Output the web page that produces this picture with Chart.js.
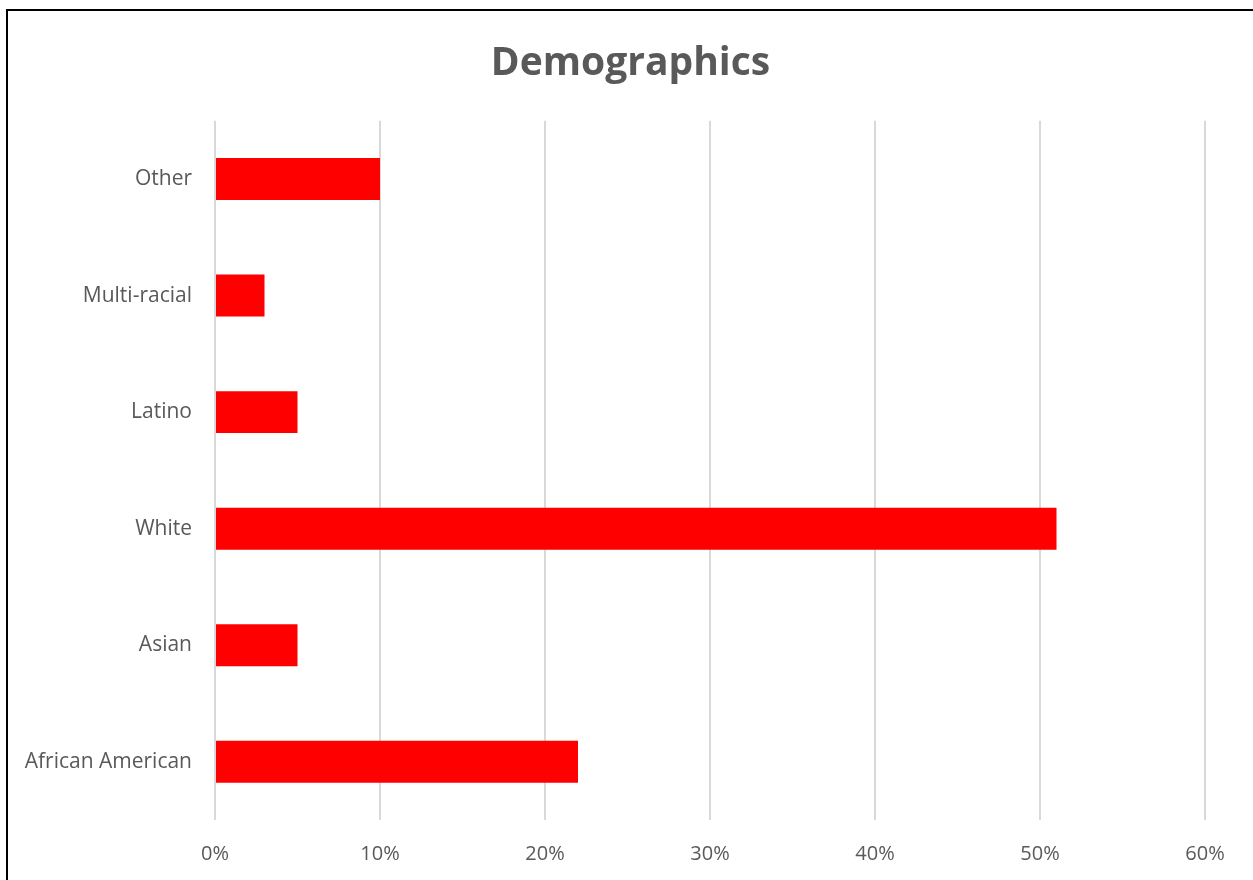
<!DOCTYPE html>
<html>
<head>
<meta charset="utf-8">
<script src="https://cdn.jsdelivr.net/npm/chart.js@4/dist/chart.umd.min.js"></script>
<style>
    html, body { margin: 0; padding: 0; background: #fff; }
    #wrap { position: relative; width: 1253px; height: 880px; }
    #frame {
        position: absolute; left: 6px; top: 9px; right: -10px; bottom: -10px;
        border-left: 2px solid #000; border-top: 2px solid #000;
        pointer-events: none;
    }
</style>
</head>
<body>
<div id="wrap">
    <canvas id="chart" width="1253" height="880"></canvas>
    <div id="frame"></div>
</div>
<script>
// categories listed bottom-up in the picture, reversed on the axis below
const categories = ["African American", "Asian", "White", "Latino", "Multi-racial", "Other"];
const percentages = [22, 5, 51, 5, 3, 10];
const xTicks = [0, 10, 20, 30, 40, 50, 60];

const TEXT = "#595959";
const FONT = "'Open Sans', 'Liberation Sans', sans-serif";

new Chart(document.getElementById("chart"), {
    type: "bar",
    data: {
        labels: categories,
        datasets: [
            {
                data: percentages,
                backgroundColor: "#ff0000",
                borderWidth: 0,
                categoryPercentage: 1,
                barPercentage: 0.36,
            },
        ],
    },
    options: {
        indexAxis: "y",
        responsive: false,
        animation: false,
        layout: {
            padding: { left: 8, right: 0, top: 0, bottom: 0 },
        },
        plugins: {
            legend: { display: false },
            tooltip: { enabled: false },
            title: {
                display: true,
                text: "Demographics",
                color: TEXT,
                font: { family: FONT, size: 39, weight: "bold" },
                padding: { top: 40, bottom: 34 },
            },
        },
        scales: {
            x: {
                min: 0,
                max: 60,
                afterBuildTicks: (axis) => {
                    axis.ticks = xTicks.map((v) => ({ value: v }));
                },
                afterFit: (axis) => {
                    axis.height = 60;
                },
                grid: {
                    color: "#d9d9d9",
                    lineWidth: 2,
                    drawTicks: false,
                },
                border: { display: false },
                ticks: {
                    padding: 22,
                    color: TEXT,
                    font: { family: FONT, size: 20 },
                    callback: (v) => v + "%",
                },
            },
            y: {
                reverse: true,
                afterFit: (axis) => {
                    axis.width = 207;
                },
                grid: { display: false, drawTicks: false },
                border: { display: false },
                ticks: {
                    padding: 23,
                    color: TEXT,
                    font: { family: FONT, size: 21 },
                },
            },
            // empty right-hand spacer so the title stays centred on the page
            spacer: {
                type: "linear",
                position: "right",
                afterFit: (axis) => {
                    axis.width = 48;
                },
                grid: { display: false, drawTicks: false },
                border: { display: false },
                ticks: { display: false },
            },
        },
    },
});
</script>
</body>
</html>
